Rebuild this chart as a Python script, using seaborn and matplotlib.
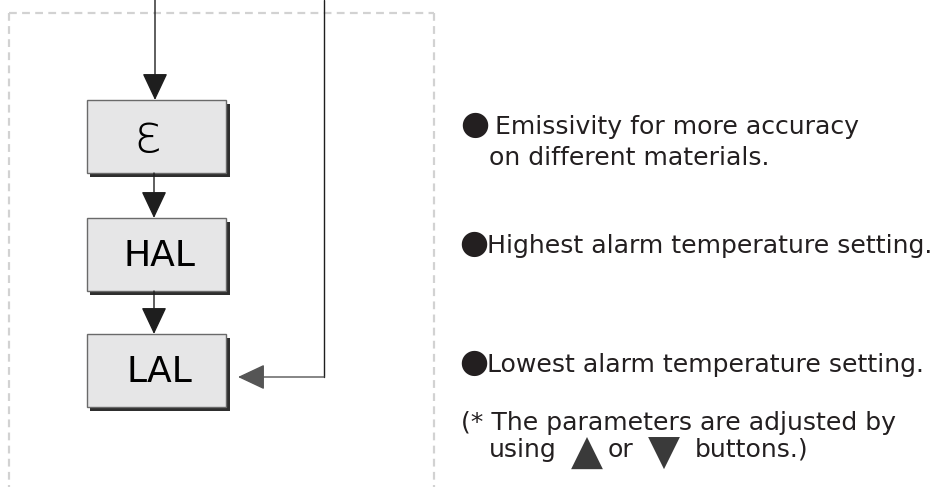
import matplotlib
matplotlib.use("Agg")
import matplotlib.pyplot as plt
from matplotlib.patches import Rectangle
import seaborn as sns

# flow steps and the notes beside them
steps = ["ε", "HAL", "LAL"]
notes = [
    "Emissivity for more accuracy",
    "on different materials.",
    "Highest alarm temperature setting.",
    "Lowest alarm temperature setting.",
]
footnote = ["(* The parameters are adjusted by", "using", "or", "buttons.)"]

# layout in pixel coordinates (y grows downward)
box_x, box_w, box_h = 87, 139, 73
box_tops = [100, 218, 334]
step_fonts = [38, 26, 26]

sns.set_theme(style="white")
plt.rcParams["font.family"] = ["DejaVu Sans"]

fig = plt.figure(figsize=(9.36, 4.87), dpi=100)
ax = fig.add_axes([0, 0, 1, 1])
ax.set_xlim(0, 936)
ax.set_ylim(487, 0)
ax.axis("off")

ink = "#231f20"
line_col = "#1e1e1e"

# dashed frame
frame = dict(color="#d2d2d2", lw=1.6, ls=(0, (3.5, 2.4)))
ax.plot([9, 9], [13, 487], **frame)
ax.plot([9, 434], [13, 13], **frame)
ax.plot([434, 434], [13, 487], **frame)

def arrow(x0, y0, x1, y1, color=line_col):
    ax.annotate("", xy=(x1, y1), xytext=(x0, y0),
                arrowprops=dict(arrowstyle="-|>,head_length=17,head_width=8",
                                mutation_scale=1, lw=1.0, color=color,
                                shrinkA=0, shrinkB=0))

# boxes with a dark drop shadow
for label, top, fs in zip(steps, box_tops, step_fonts):
    ax.add_patch(Rectangle((box_x + 3, top + 4), box_w + 1, box_h,
                           facecolor="#2e2e2e", edgecolor="none", zorder=2))
    ax.add_patch(Rectangle((box_x, top), box_w, box_h,
                           facecolor="#e6e6e7", edgecolor="#6a6a6a",
                           lw=1.0, zorder=3))
    if label == "ε":
        ax.text(148, top + 37, label, fontsize=fs, color="black",
                ha="center", va="center", fontweight="light", zorder=4)
    else:
        ax.text(box_x + box_w / 2 + 3, top + 38, label, fontsize=fs,
                color="black", ha="center", va="center", zorder=4)

# arrows into and between boxes
arrow(155, 0, 155, box_tops[0])
arrow(154, box_tops[0] + box_h, 154, box_tops[1])
arrow(154, box_tops[1] + box_h, 154, box_tops[2])
ax.plot([324, 324], [0, 377], color=line_col, lw=1.0)
arrow(324, 377, 238, 377, color="#555555")

# notes on the right
fs = 18.1
bullet_fs = 24
ax.text(460, 134, "●", fontsize=bullet_fs, color=ink, va="baseline")
ax.text(495, 134, notes[0], fontsize=fs, color=ink, va="baseline")
ax.text(489, 165, notes[1], fontsize=fs, color=ink, va="baseline")
ax.text(459, 253, "●", fontsize=bullet_fs, color=ink, va="baseline")
ax.text(487, 253, notes[2], fontsize=fs, color=ink, va="baseline")
ax.text(459, 372, "●", fontsize=bullet_fs, color=ink, va="baseline")
ax.text(487, 372, notes[3], fontsize=fs, color=ink, va="baseline")

ax.text(461, 430, footnote[0], fontsize=fs, color=ink, va="baseline")
ax.text(489, 457, footnote[1], fontsize=fs, color=ink, va="baseline")
ax.text(587, 453, "▲", fontsize=30, color="#3a3a3a", ha="center", va="center")
ax.text(608, 457, footnote[2], fontsize=fs, color=ink, va="baseline")
ax.text(664, 453, "▼", fontsize=30, color="#3a3a3a", ha="center", va="center")
ax.text(695, 457, footnote[3], fontsize=fs, color=ink, va="baseline")

fig.savefig("out.png", dpi=100, facecolor="white")
